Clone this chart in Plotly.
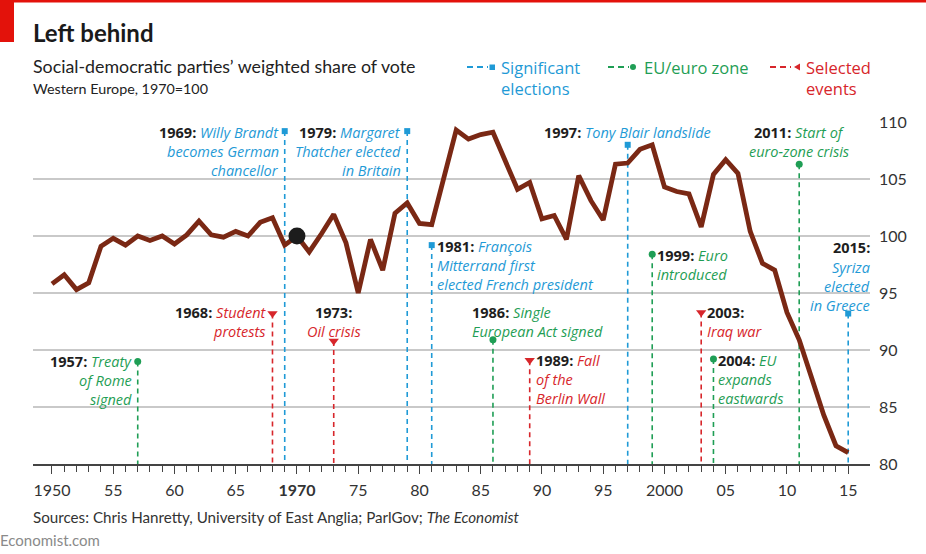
import plotly.graph_objects as go

# ---------------- data ----------------
years = [1950, 1951, 1952, 1953, 1954, 1955, 1956, 1957, 1958, 1959,
         1960, 1961, 1962, 1963, 1964, 1965, 1966, 1967, 1968, 1969,
         1970, 1971, 1972, 1973, 1974, 1975, 1976, 1977, 1978, 1979,
         1980, 1981, 1983, 1984, 1985, 1986, 1988, 1989, 1990, 1991,
         1992, 1993, 1994, 1995, 1996, 1997, 1998, 1999, 2000, 2001,
         2002, 2003, 2004, 2005, 2006, 2007, 2008, 2009, 2010, 2011,
         2012, 2013, 2014, 2015]
share = [95.8, 96.6, 95.3, 95.9, 99.1, 99.8, 99.2, 100.0, 99.6, 100.0,
         99.3, 100.1, 101.3, 100.1, 99.9, 100.4, 100.0, 101.2, 101.6, 99.2,
         100.0, 98.6, 100.2, 101.9, 99.4, 95.0, 99.7, 97.0, 102.0, 102.9,
         101.1, 101.0, 109.3, 108.5, 108.9, 109.1, 104.1, 104.7, 101.5, 101.8,
         99.7, 105.3, 103.1, 101.4, 106.3, 106.4, 107.6, 108.0, 104.3, 103.9,
         103.7, 100.8, 105.4, 106.7, 105.5, 100.4, 97.6, 97.0, 93.3, 90.9,
         87.6, 84.3, 81.6, 81.0]
base_year = 1970
base_value = 100

ev_years = [1969, 1979, 1981, 1997, 2015,
            1957, 1986, 1999, 2004, 2011,
            1968, 1973, 1989, 2003]
ev_kind = ["election"] * 5 + ["eu"] * 5 + ["event"] * 4
ev_top = [109.2, 109.2, 99.2, 108.0, 93.2,
          89.0, 90.9, 98.4, 89.2, 106.3,
          93.2, 90.8, 89.1, 93.3]
ev_text = [
    "Willy Brandt|becomes German|chancellor",
    "Margaret|Thatcher elected|in Britain",
    "François|Mitterrand first|elected French president",
    "Tony Blair landslide",
    "|Syriza|elected|in Greece",
    "Treaty|of Rome|signed",
    "Single|European Act signed",
    "Euro|introduced",
    "EU|expands|eastwards",
    "Start of|euro-zone crisis",
    "Student|protests",
    "|Oil crisis",
    "Fall|of the|Berlin Wall",
    "|Iraq war",
]

x_ticks = [1950, 1955, 1960, 1965, 1970, 1975, 1980, 1985, 1990, 1995, 2000, 2005, 2010, 2015]
x_labels = ["1950", "55", "60", "65", "<b>1970</b>", "75", "80", "85", "90", "95", "2000", "05", "10", "15"]
y_ticks = [80, 85, 90, 95, 100, 105, 110]

# ---------------- style ----------------
FONT = "Lato"
LFONT = "Open Sans"
BLUE = "#1f9ad6"
GREEN = "#1f9e55"
RED = "#d7262b"
DARK = "#1e1e1e"
LINE = "#7a2814"
colors = {"election": BLUE, "eu": GREEN, "event": RED}
symbols = {"election": "square", "eu": "circle", "event": "triangle-down"}
sizes = {"election": 6, "eu": 7, "event": 9}

# label placement: (xanchor, xshift, first-line centre y, line gap px)
label_place = {
    1969: ("right", -5, 109.04, 19),
    1979: ("right", -5, 109.04, 19),
    1981: ("left", 4, 99.04, 19),
    1997: ("center", 0, 109.04, 19),
    2015: ("right", 23, 98.95, 19.2),
    1957: ("right", -5, 88.95, 19),
    1986: ("left", -22, 93.33, 19),
    1999: ("left", 4, 98.33, 19),
    2004: ("left", 4, 89.12, 19),
    2011: ("center", 0, 109.04, 19),
    1968: ("right", -5, 93.33, 19),
    1973: ("center", 0, 93.33, 19),
    1989: ("left", 5, 89.04, 19),
    2003: ("left", 5, 93.33, 19),
}

W, H = 926, 554
ML, MR, MT, MB = 33, 56, 122, 90
PW, PH = W - ML - MR, H - MT - MB


def px(x):
    return (x - ML) / PW


def py(y):
    return (H - MB - y) / PH


fig = go.Figure()

# dashed event lines + markers
for kind in ["election", "eu", "event"]:
    xs, ys, mx, my = [], [], [], []
    for yr, k, top in zip(ev_years, ev_kind, ev_top):
        if k != kind:
            continue
        xs += [yr, yr, None]
        ys += [top, 80, None]
        mx.append(yr)
        my.append(top)
    fig.add_trace(go.Scatter(x=xs, y=ys, mode="lines",
                             line=dict(color=colors[kind], width=1.6, dash="5px,4px"),
                             hoverinfo="skip", showlegend=False))
    fig.add_trace(go.Scatter(x=mx, y=my, mode="markers",
                             marker=dict(symbol=symbols[kind], size=sizes[kind],
                                         color=colors[kind], line=dict(width=0)),
                             hoverinfo="skip", showlegend=False))

# main series
fig.add_trace(go.Scatter(x=years, y=share, mode="lines",
                         line=dict(color=LINE, width=4.8, shape="linear"),
                         hoverinfo="skip", showlegend=False))
fig.add_trace(go.Scatter(x=[base_year], y=[base_value], mode="markers",
                         marker=dict(size=17, color="#1c1c1c"),
                         hoverinfo="skip", showlegend=False))

# event labels (one annotation per line for tight line spacing)
annotations = []
for yr, k, txt in zip(ev_years, ev_kind, ev_text):
    xa, xs_, yv, gap = label_place[yr]
    parts = txt.split("|")
    head = f"<b>{yr}:</b>"
    col = colors[k]
    if parts[0] == "":
        lines = [head] + [f"<i><span style='color:{col}'>{p}</span></i>" for p in parts[1:]]
    else:
        lines = [head + f" <i><span style='color:{col}'>{parts[0]}</span></i>"] + \
                [f"<i><span style='color:{col}'>{p}</span></i>" for p in parts[1:]]
    for i, ln in enumerate(lines):
        annotations.append(dict(x=yr, y=yv, xref="x", yref="y", text=ln,
                                xanchor=xa, yanchor="middle", xshift=xs_, yshift=-i * gap,
                                showarrow=False, borderpad=0,
                                font=dict(family=LFONT, size=14.5, color=DARK)))

# titles
annotations += [
    dict(x=px(31), y=py(33), xref="paper", yref="paper", text="<b>Left behind</b>",
         xanchor="left", yanchor="middle", showarrow=False,
         font=dict(family=FONT, size=24, color="#1a1a1a")),
    dict(x=px(31), y=py(66), xref="paper", yref="paper",
         text="Social-democratic parties’ weighted share of vote",
         xanchor="left", yanchor="middle", showarrow=False,
         font=dict(family=FONT, size=17.8, color="#222")),
    dict(x=px(31), y=py(88), xref="paper", yref="paper", text="Western Europe, 1970=100",
         xanchor="left", yanchor="middle", showarrow=False,
         font=dict(family=FONT, size=14.3, color="#222")),
    dict(x=px(31), y=py(517), xref="paper", yref="paper",
         text="Sources: Chris Hanretty, University of East Anglia; ParlGov; <i>The Economist</i>",
         xanchor="left", yanchor="middle", showarrow=False,
         font=dict(family=FONT, size=15.2, color="#333")),
    dict(x=px(-2), y=py(540), xref="paper", yref="paper", text="Economist.com",
         xanchor="left", yanchor="middle", showarrow=False,
         font=dict(family=FONT, size=15, color="#8a8a8a")),
    # legend texts
    dict(x=px(499), y=py(54), xref="paper", yref="paper", text="Significant<br>elections",
         xanchor="left", yanchor="top", align="left", showarrow=False,
         font=dict(family=LFONT, size=16.5, color=BLUE)),
    dict(x=px(642), y=py(54), xref="paper", yref="paper", text="EU/euro zone",
         xanchor="left", yanchor="top", align="left", showarrow=False,
         font=dict(family=LFONT, size=16.5, color=GREEN)),
    dict(x=px(804), y=py(54), xref="paper", yref="paper", text="Selected<br>events",
         xanchor="left", yanchor="top", align="left", showarrow=False,
         font=dict(family=LFONT, size=16.5, color=RED)),
]

shapes = [
    # 100 reference line
    dict(type="line", xref="paper", yref="y", x0=0, x1=1, y0=base_value, y1=base_value,
         line=dict(color="#e3120b", width=1.6), layer="between"),
    # red branding
    dict(type="rect", xref="paper", yref="paper", x0=px(0), x1=px(926), y0=py(0), y1=py(2.5),
         fillcolor="#e3120b", line=dict(width=0)),
    dict(type="rect", xref="paper", yref="paper", x0=px(0), x1=px(14), y0=py(0), y1=py(42),
         fillcolor="#e3120b", line=dict(width=0)),
]
# legend key symbols
for x0, col in [(467, BLUE), (608, GREEN), (770, RED)]:
    shapes.append(dict(type="line", xref="paper", yref="paper", x0=px(x0), x1=px(x0 + 21),
                       y0=py(67), y1=py(67), line=dict(color=col, width=2, dash="6px,4px")))
shapes.append(dict(type="rect", xref="paper", yref="paper", x0=px(489.5), x1=px(495),
                   y0=py(64.5), y1=py(70), fillcolor=BLUE, line=dict(width=0)))
shapes.append(dict(type="circle", xref="paper", yref="paper", x0=px(630), x1=px(636),
                   y0=py(64), y1=py(70), fillcolor=GREEN, line=dict(width=0)))
shapes.append(dict(type="path", xref="paper", yref="paper",
                   path=f"M {px(794)} {py(67)} L {px(800)} {py(63.5)} L {px(800)} {py(70.5)} Z",
                   fillcolor=RED, line=dict(width=0)))

fig.update_layout(
    width=W, height=H,
    margin=dict(l=ML, r=MR, t=MT, b=MB, pad=0),
    paper_bgcolor="white", plot_bgcolor="white",
    showlegend=False,
    font=dict(family=FONT, color="#333"),
    annotations=annotations,
    shapes=shapes,
    xaxis=dict(range=[1948.45, 2016.78], tickmode="array", tickvals=x_ticks, ticktext=x_labels,
               ticks="outside", ticklen=8, tickwidth=1, tickcolor="#444",
               minor=dict(tickmode="array", tickvals=list(range(1950, 2016)), ticks="outside",
                          ticklen=6, tickwidth=1, tickcolor="#444", showgrid=False),
               showline=True, linecolor="#444", linewidth=1.5, showgrid=False, zeroline=False,
               tickfont=dict(family=FONT, size=16, color="#333"), ticklabelstandoff=3,
               fixedrange=True),
    yaxis=dict(range=[80, 110], side="right", tickmode="array", tickvals=y_ticks,
               showgrid=True, gridcolor="#c9c9c9", gridwidth=2, zeroline=False, ticks="",
               showline=False, tickfont=dict(family=FONT, size=16, color="#333"),
               ticklabelstandoff=8, fixedrange=True),
)

fig.write_html("out.html")
